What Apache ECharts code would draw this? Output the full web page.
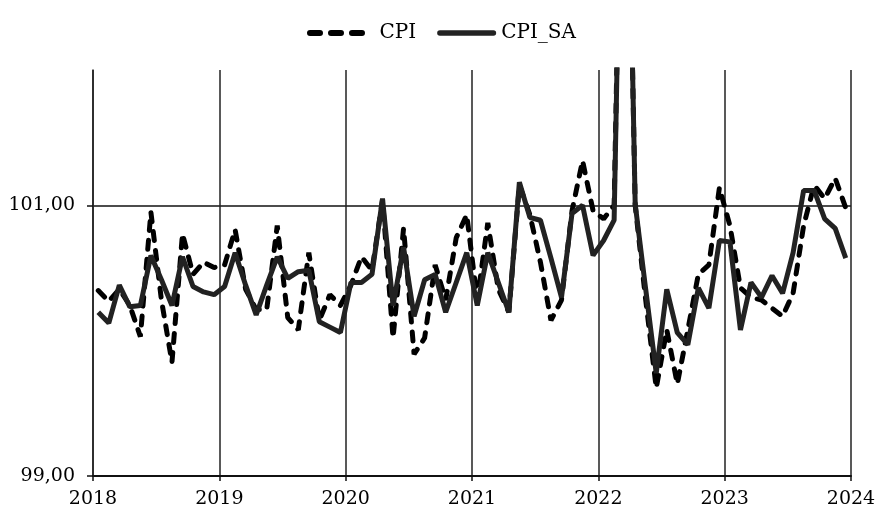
<!DOCTYPE html>
<html>
<head>
<meta charset="utf-8">
<script src="https://cdn.jsdelivr.net/npm/echarts@6/dist/echarts.min.js"></script>
<style>html,body{margin:0;padding:0;background:#fff}#c{width:882px;height:509px}</style>
</head>
<body>
<div id="c"></div>
<script>
// Monthly observations, Jan 2018 .. Dec 2023
var startYear = 2018, nYears = 6;
var cpi = [
  100.37, 100.29, 100.38, 100.26, 100.03, 100.95, 100.30, 99.84, 100.79, 100.49, 100.58, 100.54,
  100.56, 100.82, 100.38, 100.23, 100.23, 100.85, 100.17, 100.08, 100.65, 100.15, 100.34, 100.26,
  100.41, 100.62, 100.52, 101.04, 100.02, 100.83, 99.90, 100.02, 100.56, 100.30, 100.76, 100.93,
  100.30, 100.87, 100.38, 100.21, 101.15, 100.93, 100.58, 100.15, 100.30, 100.96, 101.33, 100.96,
  100.90, 101.00, 105.00, 101.00, 100.30, 99.65, 100.08, 99.68, 100.08, 100.49, 100.56, 101.13,
  100.85, 100.39, 100.32, 100.30, 100.24, 100.18, 100.35, 100.85, 101.15, 101.05, 101.20, 100.98
];
var cpiSa = [
  100.21, 100.13, 100.41, 100.25, 100.26, 100.63, 100.45, 100.26, 100.62, 100.40, 100.36, 100.34,
  100.40, 100.65, 100.41, 100.19, 100.41, 100.62, 100.46, 100.51, 100.52, 100.14, 100.10, 100.06,
  100.43, 100.43, 100.49, 101.05, 100.26, 100.69, 100.18, 100.45, 100.49, 100.21, 100.43, 100.65,
  100.26, 100.65, 100.43, 100.21, 101.17, 100.91, 100.89, 100.61, 100.32, 100.94, 101.00, 100.63,
  100.74, 100.89, 105.00, 101.01, 100.38, 99.76, 100.38, 100.06, 99.97, 100.39, 100.24, 100.74,
  100.73, 100.08, 100.43, 100.32, 100.48, 100.35, 100.65, 101.11, 101.11, 100.90, 100.83, 100.61
];
var seriesNames = ['CPI', 'CPI_SA'];
var yTicks = [99, 101];

// month labels 'YYYY-MM'
var months = [];
for (var y = startYear; y < startYear + nYears; y++) {
  for (var m = 1; m <= 12; m++) months.push(y + '-' + (m < 10 ? '0' + m : m));
}
// mid-month position in decimal years
function toYear(s) { var p = s.split('-'); return +p[0] + (+p[1] - 0.5) / 12; }
function pairs(vals) { return months.map(function (s, i) { return [toYear(s), vals[i]]; }); }

var FONT = 'DejaVu Serif';
var dashIcon = 'path://M3,0 L13,0 A3,3 0 0 1 13,6 L3,6 A3,3 0 0 1 3,0 Z M24,0 L34,0 A3,3 0 0 1 34,6 L24,6 A3,3 0 0 1 24,0 Z M45,0 L55,0 A3,3 0 0 1 55,6 L45,6 A3,3 0 0 1 45,0 Z';
var solidIcon = 'path://M3,0 L62,0 A3,3 0 0 1 62,6 L3,6 A3,3 0 0 1 3,0 Z';

var chart = echarts.init(document.getElementById('c'), null, {renderer: 'canvas'});
chart.setOption({
  animation: false,
  backgroundColor: '#fff',
  grid: {left: 93, right: 31, top: 70, bottom: 32, containLabel: false},
  legend: {
    top: 18, left: 302, itemWidth: 59, itemHeight: 6, itemGap: 21,
    textStyle: {fontFamily: FONT, fontSize: 20, color: '#000'},
    data: [
      {name: seriesNames[0], icon: dashIcon, itemStyle: {color: '#000'},
        textStyle: {padding: [0, 0, 0, 9]}},
      {name: seriesNames[1], icon: solidIcon, itemStyle: {color: '#222'}}
    ]
  },
  xAxis: {
    type: 'value', min: startYear, max: startYear + nYears, interval: 1,
    axisLine: {show: true, lineStyle: {color: '#111', width: 2}},
    axisTick: {show: true, length: 5, lineStyle: {color: '#111', width: 1.5}},
    axisLabel: {margin: 14, fontFamily: FONT, fontSize: 19, color: '#000',
      formatter: function (v) { return String(Math.round(v)); }},
    splitLine: {show: true, lineStyle: {color: '#222', width: 1.5}}
  },
  yAxis: {
    type: 'value', min: 99, max: 102, interval: 2,
    axisLine: {show: true, lineStyle: {color: '#222', width: 1.5}},
    axisTick: {show: true, length: 6, customValues: yTicks, lineStyle: {color: '#111', width: 1.5}},
    axisLabel: {margin: 18, fontFamily: FONT, fontSize: 19, color: '#000', customValues: yTicks,
      formatter: function (v) { return v.toFixed(2).replace('.', ','); }},
    splitLine: {show: true, lineStyle: {color: ['#111', '#111', 'rgba(0,0,0,0)'], width: 1.5}}
  },
  series: [
    {name: seriesNames[0], type: 'line', data: pairs(cpi), showSymbol: false, symbol: 'none',
      color: '#000',
      lineStyle: {color: '#000', width: 5, type: [9, 10], cap: 'round'}},
    {name: seriesNames[1], type: 'line', data: pairs(cpiSa), showSymbol: false, symbol: 'none',
      color: '#222',
      lineStyle: {color: '#222', width: 5, type: 'solid'}}
  ]
});
</script>
</body>
</html>
